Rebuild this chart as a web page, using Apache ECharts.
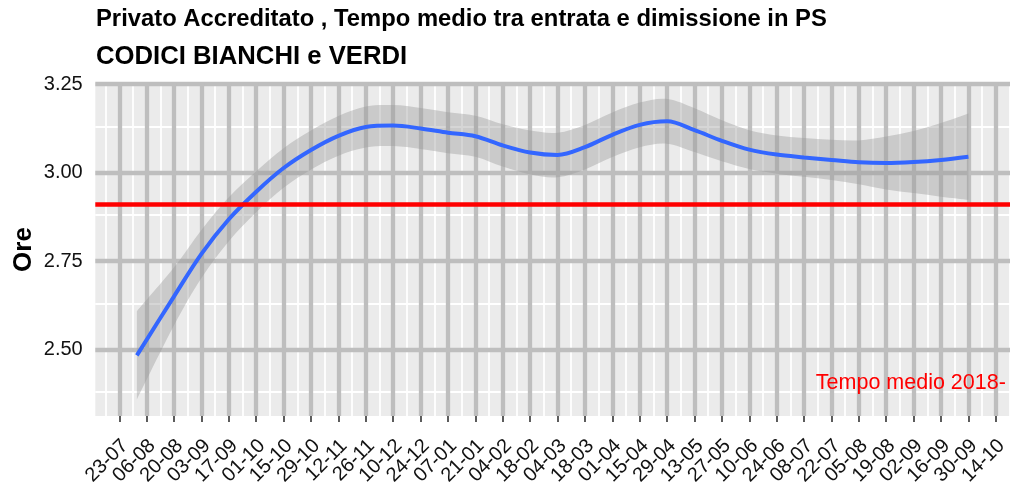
<!DOCTYPE html>
<html>
<head>
<meta charset="utf-8">
<title>Privato Accreditato - Tempo medio tra entrata e dimissione in PS</title>
<script src="https://cdn.jsdelivr.net/npm/echarts@6/dist/echarts.min.js"></script>
<style>
  html, body { margin: 0; padding: 0; background: #ffffff; }
  #chart { width: 1011px; height: 482px; }
</style>
</head>
<body>
<div id="chart"></div>
<script>
// Days are counted from 23-07-2018 (first labelled tick).
const tickLabels = ['23-07', '06-08', '20-08', '03-09', '17-09', '01-10', '15-10', '29-10',
  '12-11', '26-11', '10-12', '24-12', '07-01', '21-01', '04-02', '18-02', '04-03', '18-03',
  '01-04', '15-04', '29-04', '13-05', '27-05', '10-06', '24-06', '08-07', '22-07', '05-08',
  '19-08', '02-09', '16-09', '30-09', '14-10'];
const tickDays = tickLabels.map((_, i) => i * 14);
const minorDays = [-7].concat(tickDays.map(d => d + 7));
// Labels are split over two overlaid axes so that neighbouring rotated labels never collide
const tickDaysEven = tickDays.filter((_, i) => i % 2 === 0);
const tickDaysOdd = tickDays.filter((_, i) => i % 2 === 1);

const yTicks = [2.5, 2.75, 3.0, 3.25];
const yMinor = [2.375, 2.625, 2.875, 3.125];

// Smoothed mean time (hours) and half-width of its confidence band
const fitDays = [9, 28, 42, 56, 70, 84, 98, 112, 126, 140, 154, 168, 182, 196, 210, 224,
  238, 252, 266, 280, 294, 308, 322, 336, 350, 364, 378, 392, 406, 420, 434];
const fitOre = [2.483, 2.650, 2.770, 2.868, 2.946, 3.013, 3.064, 3.104, 3.129, 3.133, 3.125,
  3.113, 3.103, 3.077, 3.057, 3.050, 3.072, 3.107, 3.135, 3.145, 3.120, 3.090, 3.065,
  3.051, 3.043, 3.036, 3.029, 3.027, 3.030, 3.036, 3.045];
const ciHalf = [0.125, 0.082, 0.068, 0.062, 0.058, 0.056, 0.055, 0.056, 0.058, 0.058, 0.058,
  0.058, 0.058, 0.060, 0.062, 0.063, 0.063, 0.063, 0.063, 0.063, 0.062, 0.058, 0.055,
  0.054, 0.055, 0.057, 0.062, 0.075, 0.088, 0.104, 0.122];

// Reference mean over the whole period
const meanOre = 2.909;
const meanLabel = 'Tempo medio 2018-';
const meanLabelPos = [356, 2.405];

const xRange = [-12.25, 455.25];
const yRange = [2.3115, 3.2535];

const FONT = 'Liberation Sans, Arial, sans-serif';
const GRID_MAJOR = '#BEBEBE';

// Grid lines: minor (white) first, then major (grey) on top
const gridLines = [];
const minorStyle = { color: '#ffffff', width: 1.8, type: 'solid' };
const majorStyle = { color: GRID_MAJOR, width: 4.3, type: 'solid' };
yMinor.forEach(v => gridLines.push({ yAxis: v, lineStyle: minorStyle }));
minorDays.forEach(d => gridLines.push({ xAxis: d, lineStyle: minorStyle }));
yTicks.forEach(v => gridLines.push({ yAxis: v, lineStyle: majorStyle }));
tickDays.forEach(d => gridLines.push({ xAxis: d, lineStyle: majorStyle }));

// Open Catmull-Rom curve through pixel points, as SVG path commands
function curvePath(pts, moveFirst) {
  let s = (moveFirst ? 'M' : 'L') + pts[0][0] + ' ' + pts[0][1];
  for (let i = 0; i < pts.length - 1; i++) {
    const p0 = pts[Math.max(i - 1, 0)], p1 = pts[i], p2 = pts[i + 1];
    const p3 = pts[Math.min(i + 2, pts.length - 1)];
    const c1 = [p1[0] + (p2[0] - p0[0]) / 6, p1[1] + (p2[1] - p0[1]) / 6];
    const c2 = [p2[0] - (p3[0] - p1[0]) / 6, p2[1] - (p3[1] - p1[1]) / 6];
    s += 'C' + c1[0] + ' ' + c1[1] + ' ' + c2[0] + ' ' + c2[1] + ' ' + p2[0] + ' ' + p2[1];
  }
  return s;
}

function dateAxis(values, showTicks) {
  return {
    type: 'value',
    position: 'bottom',
    min: xRange[0], max: xRange[1],
    axisLine: { show: false },
    splitLine: { show: false },
    axisTick: {
      show: showTicks, length: 6, customValues: tickDays,
      lineStyle: { color: '#333333', width: 1.6 }
    },
    axisLabel: {
      customValues: values,
      showMinLabel: true, showMaxLabel: true, hideOverlap: false,
      rotate: 45, align: 'right', verticalAlign: 'top', lineHeight: 16,
      margin: 21,
      fontFamily: FONT, fontSize: 20, color: '#111111',
      formatter: v => tickLabels[tickDays.indexOf(Math.round(v))]
    }
  };
}

const chart = echarts.init(document.getElementById('chart'), null, { renderer: 'canvas' });

chart.setOption({
  animation: false,
  backgroundColor: '#ffffff',
  title: [
    {
      text: 'Privato Accreditato , Tempo medio tra entrata e dimissione in PS',
      left: 96, top: 7, padding: 0,
      textStyle: { fontFamily: FONT, fontSize: 23.8, fontWeight: 'bold', color: '#000000' }
    },
    {
      text: 'CODICI BIANCHI e VERDI',
      left: 96, top: 44, padding: 0,
      textStyle: { fontFamily: FONT, fontSize: 25.7, fontWeight: 'bold', color: '#000000' }
    }
  ],
  grid: {
    left: 95.3, right: 1, top: 83, bottom: 66,
    show: true, backgroundColor: '#EBEBEB', borderWidth: 0,
    outerBoundsMode: 'none'
  },
  xAxis: [dateAxis(tickDaysEven, true), dateAxis(tickDaysOdd, false)],
  yAxis: {
    type: 'value',
    min: yRange[0], max: yRange[1],
    name: 'Ore',
    nameLocation: 'middle', nameRotate: 90, nameGap: 58,
    nameMoveOverlap: false,
    nameTextStyle: { fontFamily: FONT, fontSize: 26, fontWeight: 'bold', color: '#000000' },
    axisLine: { show: false },
    splitLine: { show: false },
    axisTick: {
      show: true, length: 6, customValues: yTicks,
      lineStyle: { color: '#333333', width: 1.6 }
    },
    axisLabel: {
      customValues: yTicks,
      showMinLabel: true, showMaxLabel: true,
      margin: 12.6,
      fontFamily: FONT, fontSize: 20, color: '#111111',
      formatter: v => v.toFixed(2)
    }
  },
  series: [
    {
      name: 'griglia',
      type: 'line',
      data: [],
      z: 1,
      silent: true,
      markLine: {
        z: 1,
        silent: true,
        symbol: ['none', 'none'],
        label: { show: false },
        lineStyle: { type: 'solid' },
        data: gridLines
      }
    },
    {
      name: 'intervallo',
      type: 'custom',
      z: 2,
      silent: true,
      data: fitDays.map((d, i) => [d, fitOre[i] - ciHalf[i], fitOre[i] + ciHalf[i]]),
      encode: { x: 0, y: [1, 2] },
      renderItem: function (params, api) {
        if (params.dataIndex !== 0) return null;
        const upper = fitDays.map((d, i) => api.coord([d, fitOre[i] + ciHalf[i]]));
        const lower = fitDays.map((d, i) => api.coord([d, fitOre[i] - ciHalf[i]])).reverse();
        const pathData = curvePath(upper, true) + curvePath(lower, false) + 'Z';
        return {
          type: 'path',
          shape: { pathData: pathData },
          style: { fill: 'rgba(153,153,153,0.4)', stroke: 'none' }
        };
      }
    },
    {
      name: 'Ore',
      type: 'line',
      smooth: 0.33,
      symbol: 'none',
      z: 3,
      lineStyle: { color: '#3366FF', width: 4 },
      data: fitDays.map((d, i) => [d, fitOre[i]])
    },
    {
      name: 'media',
      type: 'line',
      data: [],
      z: 4,
      markLine: {
        z: 4,
        silent: true,
        symbol: ['none', 'none'],
        label: { show: false },
        lineStyle: { color: '#FF0000', width: 4.5, type: 'solid' },
        data: [{ yAxis: meanOre }]
      },
      markPoint: {
        z: 5,
        silent: true,
        symbol: 'circle',
        symbolSize: 0,
        data: [{
          coord: meanLabelPos,
          label: {
            show: true, position: 'right', distance: 0,
            formatter: meanLabel,
            fontFamily: FONT, fontSize: 21.5, color: '#FF0000'
          }
        }]
      }
    }
  ]
});
</script>
</body>
</html>
